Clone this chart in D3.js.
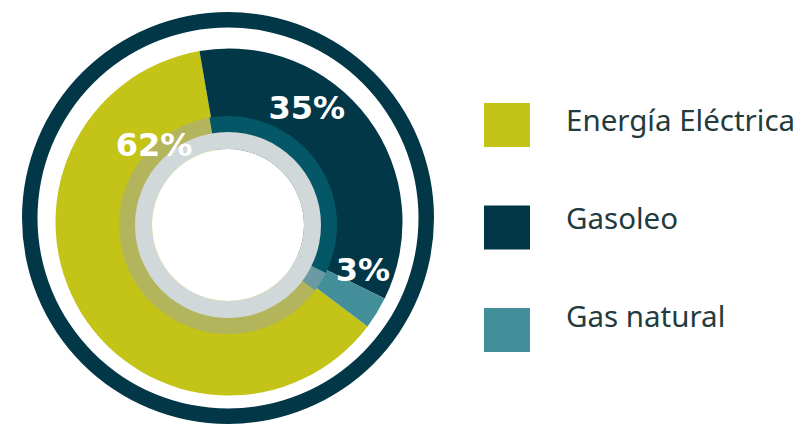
<!DOCTYPE html>
<html>
<head>
<meta charset="utf-8">
<script src="https://cdn.jsdelivr.net/npm/d3@7"></script>
<style>
  html, body { margin: 0; padding: 0; background: #ffffff; }
  svg { display: block; }
</style>
</head>
<body>
<svg id="chart" width="799" height="427"></svg>
<script>
// ---- data ----
const categories = ["Energía Eléctrica", "Gasoleo", "Gas natural"];
const values = [62, 35, 3];
const labels = ["62%", "35%", "3%"];
const sliceColors = ["#c3c318", "#023747", "#428f99"];
const innerColors = ["#b3b55c", "#035767", "#6b9aa2"];

// ---- layout ----
const svg = d3.select("#chart");
const cx = 228, cy = 221;
const deg = Math.PI / 180;
const startDeg = 127;

const pie = d3.pie().sort(null).value(d => d)
  .startAngle(startDeg * deg).endAngle((startDeg + 360) * deg);
const arcsData = pie(values);

// outer ring
const ring = d3.arc().innerRadius(190.5).outerRadius(206).startAngle(0).endAngle(2 * Math.PI);
svg.append("path").attr("transform", `translate(${cx},${cy - 3})`)
  .attr("d", ring()).attr("fill", "#023747");

// main donut
const g = svg.append("g").attr("transform", `translate(${cx + 1},${cy + 1})`);
const mainArc = d3.arc().innerRadius(0).outerRadius(173.5);
g.selectAll("path.slice").data(arcsData).join("path")
  .attr("class", "slice")
  .attr("d", mainArc)
  .attr("fill", (d, i) => sliceColors[i]);

// inner ring
const g2 = svg.append("g").attr("transform", `translate(${cx},${cy + 4})`);
const innerArc = d3.arc().innerRadius(92).outerRadius(109);
g2.selectAll("path.inner").data(arcsData).join("path")
  .attr("class", "inner")
  .attr("d", innerArc)
  .attr("fill", (d, i) => innerColors[i]);

// gray ring + white hole
g2.append("path")
  .attr("d", d3.arc().innerRadius(76).outerRadius(93).startAngle(0).endAngle(2 * Math.PI)())
  .attr("fill", "#d1d8d9");
g2.append("circle").attr("r", 76).attr("fill", "#ffffff");

// percentage labels on top (angle deg clockwise from 12 o'clock, radius)
const labelPolar = [[316, 108], [34, 139], [109.5, 142]];
const gl = svg.append("g").attr("transform", `translate(${cx + 1},${cy + 1})`);
gl.selectAll("text.pct").data(labels).join("text")
  .attr("class", "pct")
  .attr("x", (d, i) => Math.sin(labelPolar[i][0] * deg) * labelPolar[i][1])
  .attr("y", (d, i) => -Math.cos(labelPolar[i][0] * deg) * labelPolar[i][1])
  .attr("dy", 12)
  .attr("text-anchor", "middle")
  .attr("font-family", "'DejaVu Sans', sans-serif")
  .attr("font-weight", "bold")
  .attr("font-size", 32)
  .attr("fill", "#ffffff")
  .text(d => d);

// legend
const rowSq = d3.scalePoint().domain(categories).range([103, 308]);
const rowTx = d3.scalePoint().domain(categories).range([131, 327]);
const leg = svg.append("g");
leg.selectAll("rect").data(categories).join("rect")
  .attr("x", 484).attr("y", d => rowSq(d))
  .attr("width", 46).attr("height", 44)
  .attr("fill", (d, i) => sliceColors[i]);
leg.selectAll("text").data(categories).join("text")
  .attr("x", 566).attr("y", d => rowTx(d))
  .attr("font-family", "'Noto Sans', sans-serif")
  .attr("font-size", 29.5)
  .attr("fill", "#233b3d")
  .text(d => d);
</script>
</body>
</html>
